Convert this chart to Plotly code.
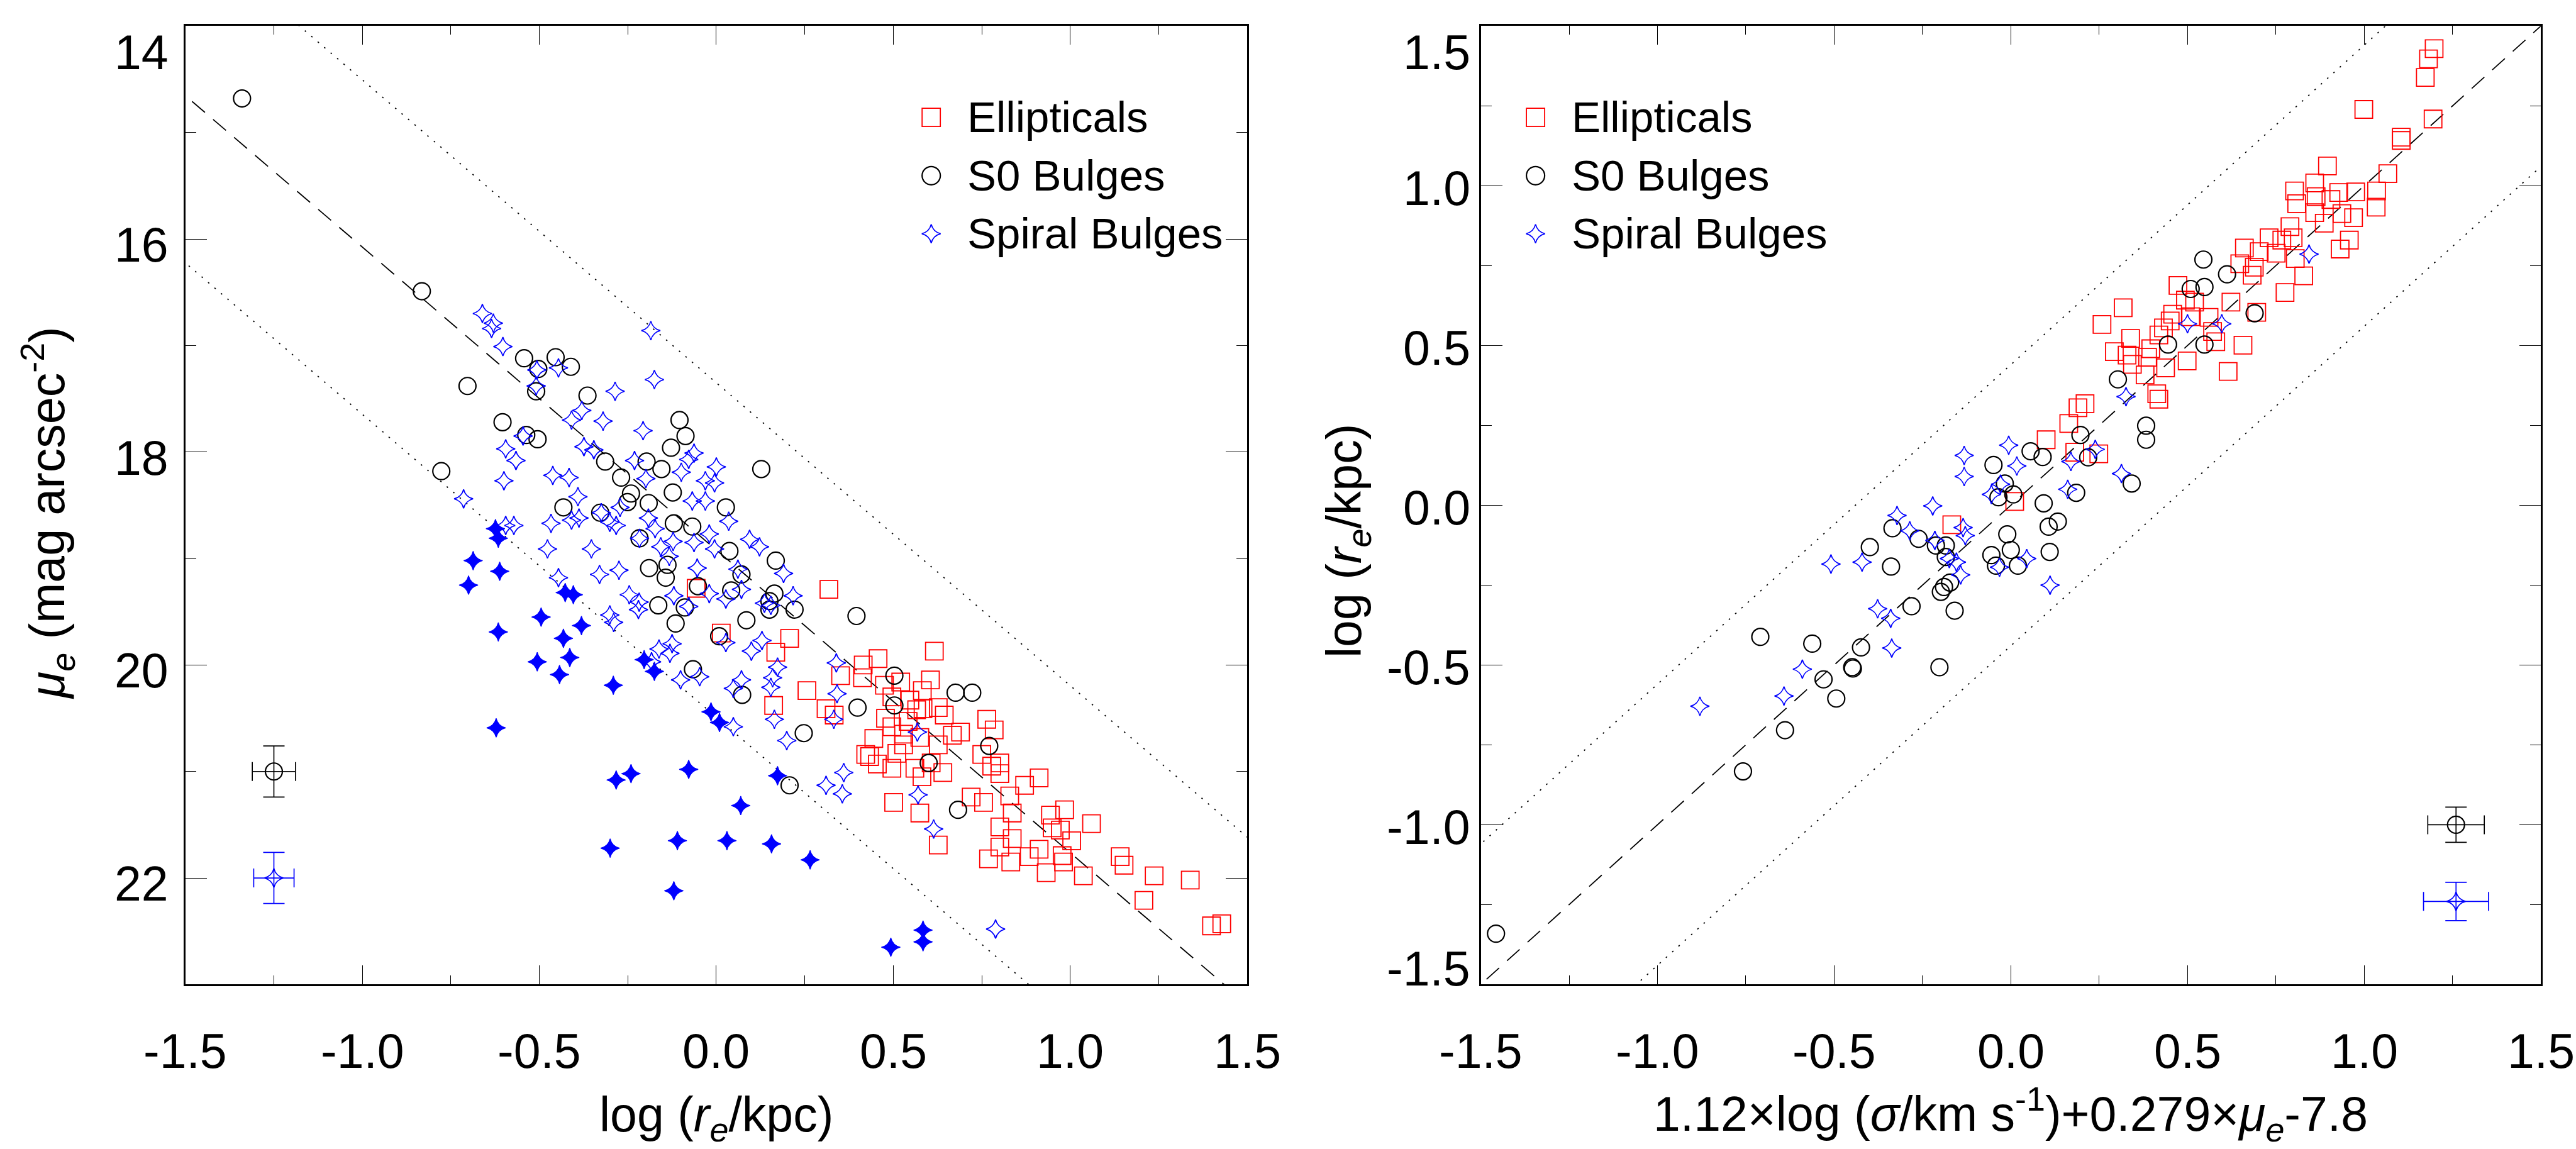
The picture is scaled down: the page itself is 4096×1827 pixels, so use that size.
import plotly.graph_objects as go

# ============ LEFT PANEL: Kormendy relation  (log re/kpc , mu_e) ============
kr_ellipticals = [
    (-0.057, 19.28), (0.014, 19.70), (0.318, 19.29), (0.207, 19.75), (0.168, 19.88), (0.616, 19.87),
    (0.415, 20.00), (0.457, 19.94), (0.351, 20.10), (0.413, 20.12), (0.256, 20.24), (0.162, 20.38),
    (0.310, 20.41), (0.333, 20.47), (0.475, 20.19), (0.521, 20.16), (0.605, 20.14), (0.582, 20.24),
    (0.496, 20.30), (0.547, 20.33), (0.566, 20.42), (0.584, 20.41), (0.627, 20.40), (0.644, 20.47),
    (0.478, 20.50), (0.542, 20.53), (0.496, 20.58), (0.445, 20.69), (0.529, 20.65), (0.575, 20.68),
    (0.529, 20.75), (0.627, 20.75), (0.667, 20.66), (0.690, 20.63), (0.422, 20.84), (0.433, 20.86),
    (0.455, 20.93), (0.496, 20.97), (0.510, 20.83), (0.561, 20.97), (0.581, 21.05), (0.640, 21.01),
    (0.607, 20.92), (0.764, 20.51), (0.785, 20.61), (0.750, 20.84), (0.778, 20.95), (0.801, 20.92),
    (0.801, 21.02), (0.871, 21.13), (0.912, 21.06), (0.829, 21.23), (0.720, 21.24), (0.755, 21.29),
    (0.501, 21.29), (0.575, 21.39), (0.836, 21.39), (0.627, 21.69), (0.801, 21.52), (0.836, 21.63),
    (0.801, 21.71), (0.769, 21.82), (0.832, 21.85), (0.884, 21.80), (0.912, 21.73), (0.944, 21.41),
    (0.984, 21.36), (0.949, 21.53), (0.972, 21.55), (1.004, 21.65), (1.060, 21.49), (0.977, 21.79),
    (0.981, 21.85), (0.932, 21.95), (1.037, 21.98), (1.141, 21.80), (1.152, 21.88), (1.237, 21.98),
    (1.339, 22.02), (1.208, 22.21), (1.399, 22.45), (1.428, 22.43),
]
kr_s0_bulges = [
    (-1.340, 14.68), (-0.832, 16.49), (-0.703, 17.38), (-0.543, 17.12), (-0.503, 17.22), (-0.454, 17.11),
    (-0.411, 17.20), (-0.509, 17.43), (-0.364, 17.47), (-0.604, 17.72), (-0.537, 17.84), (-0.505, 17.88),
    (-0.777, 18.18), (-0.104, 17.70), (-0.087, 17.85), (-0.128, 17.96), (-0.314, 18.09), (-0.269, 18.24),
    (-0.197, 18.09), (-0.155, 18.16), (0.127, 18.16), (-0.241, 18.39), (-0.251, 18.47), (-0.191, 18.48),
    (-0.123, 18.38), (-0.432, 18.52), (-0.328, 18.57), (0.027, 18.52), (-0.120, 18.67), (-0.068, 18.70),
    (-0.217, 18.81), (0.037, 18.93), (-0.190, 19.09), (-0.138, 19.06), (-0.143, 19.18), (-0.052, 19.26),
    (0.042, 19.30), (-0.164, 19.44), (-0.089, 19.46), (-0.115, 19.61), (0.008, 19.73), (-0.066, 20.04),
    (0.168, 19.02), (0.071, 19.15), (0.164, 19.33), (0.150, 19.40), (0.150, 19.48), (0.221, 19.48),
    (0.085, 19.58), (0.396, 19.54), (0.073, 20.28), (0.399, 20.40), (0.247, 20.64), (0.207, 21.13),
    (0.503, 20.10), (0.503, 20.38), (0.676, 20.26), (0.723, 20.26), (0.771, 20.76), (0.600, 20.92),
    (0.683, 21.36),
]
kr_spiral_bulges = [
    (-0.661, 16.70), (-0.630, 16.79), (-0.635, 16.84), (-0.603, 17.01), (-0.185, 16.86), (-0.507, 17.23),
    (-0.446, 17.21), (-0.509, 17.38), (-0.175, 17.32), (-0.286, 17.43), (-0.380, 17.61), (-0.409, 17.70),
    (-0.320, 17.71), (-0.207, 17.80), (-0.595, 17.97), (-0.566, 18.08), (-0.546, 17.85), (-0.374, 17.95),
    (-0.346, 17.98), (-0.231, 18.08), (-0.063, 18.01), (-0.078, 18.07), (-0.099, 18.19), (0.000, 18.14),
    (-0.462, 18.22), (-0.416, 18.24), (-0.600, 18.27), (-0.199, 18.25), (-0.031, 18.27), (-0.005, 18.29),
    (-0.714, 18.44), (-0.391, 18.42), (-0.068, 18.46), (-0.031, 18.46), (-0.272, 18.52), (-0.595, 18.69),
    (-0.572, 18.69), (-0.467, 18.67), (-0.409, 18.64), (-0.388, 18.62), (-0.325, 18.57), (-0.283, 18.69),
    (-0.301, 18.66), (-0.192, 18.62), (-0.173, 18.72), (0.035, 18.65), (-0.020, 18.77), (-0.122, 18.84),
    (-0.063, 18.85), (-0.157, 18.89), (-0.217, 18.81), (-0.005, 18.91), (-0.477, 18.91), (-0.353, 18.91),
    (-0.133, 18.98), (-0.330, 19.15), (-0.275, 19.11), (-0.446, 19.18), (-0.054, 19.09), (0.061, 19.10),
    (-0.246, 19.34), (-0.218, 19.41), (-0.220, 19.48), (-0.120, 19.35), (-0.020, 19.33), (0.027, 19.38),
    (-0.301, 19.53), (-0.290, 19.60), (-0.078, 19.45), (-0.162, 19.85), (-0.125, 19.80), (-0.131, 19.89),
    (-0.183, 19.97), (0.027, 19.79), (-0.101, 20.14), (-0.047, 20.11), (0.048, 20.22), (0.048, 20.58),
    (0.094, 18.82), (0.122, 18.89), (0.190, 19.14), (0.071, 19.29), (0.217, 19.35), (0.136, 19.42),
    (0.154, 19.44), (0.129, 19.77), (0.099, 19.87), (0.173, 20.02), (0.339, 19.98), (0.071, 20.14),
    (0.159, 20.12), (0.154, 20.21), (0.341, 20.27), (0.332, 20.51), (0.164, 20.51), (0.199, 20.71),
    (0.568, 20.63), (0.360, 21.01), (0.310, 21.13), (0.356, 21.21), (0.570, 21.22), (0.614, 21.54),
    (0.789, 22.48),
]
kr_spiral_filled = [
    (-0.624, 18.72), (-0.616, 18.81), (-0.687, 19.02), (-0.612, 19.12), (-0.700, 19.25), (-0.427, 19.32),
    (-0.404, 19.34), (-0.495, 19.55), (-0.381, 19.63), (-0.616, 19.69), (-0.432, 19.75), (-0.414, 19.93),
    (-0.506, 19.97), (-0.443, 20.09), (-0.291, 20.19), (-0.204, 19.95), (-0.175, 20.06), (-0.622, 20.59),
    (-0.015, 20.44), (0.009, 20.54), (-0.078, 20.98), (-0.241, 21.02), (-0.283, 21.08),
    (-0.300, 21.72), (-0.110, 21.65), (0.030, 21.65), (-0.120, 22.12),
    (0.173, 21.04), (0.069, 21.32), (0.156, 21.68), (0.265, 21.83), (0.493, 22.65), (0.584, 22.49),
    (0.584, 22.60),
]

# ============ RIGHT PANEL: Fundamental plane edge-on ============
fp_ellipticals = [
    (1.198, 1.429), (1.182, 1.397), (1.173, 1.339), (0.999, 1.239), (1.195, 1.209), (1.105, 1.152),
    (1.105, 1.142), (0.896, 1.062), (1.067, 1.038), (0.860, 1.009), (0.803, 0.984), (0.809, 0.944),
    (0.864, 0.966), (0.906, 0.957), (0.928, 0.979), (0.976, 0.981), (1.035, 0.984), (1.034, 0.933),
    (0.860, 0.916), (0.937, 0.913), (0.970, 0.900), (0.887, 0.883), (0.958, 0.830), (0.932, 0.802),
    (0.790, 0.872), (0.731, 0.837), (0.767, 0.830), (0.799, 0.837), (0.661, 0.805), (0.703, 0.794),
    (0.751, 0.789), (0.805, 0.772), (0.648, 0.756), (0.689, 0.745), (0.683, 0.720), (0.829, 0.718),
    (0.776, 0.666), (0.473, 0.688), (0.623, 0.636), (0.520, 0.636), (0.494, 0.642), (0.318, 0.618),
    (0.258, 0.566), (0.458, 0.598), (0.451, 0.577), (0.509, 0.590), (0.561, 0.588), (0.432, 0.555),
    (0.419, 0.533), (0.571, 0.544), (0.580, 0.512), (0.657, 0.501), (0.339, 0.522), (0.293, 0.481),
    (0.329, 0.470), (0.396, 0.490), (0.387, 0.463), (0.344, 0.441), (0.380, 0.408), (0.438, 0.430),
    (0.499, 0.452), (0.615, 0.419), (0.696, 0.604), (0.413, 0.349), (0.419, 0.332), (0.210, 0.318),
    (0.190, 0.305), (0.164, 0.256), (0.100, 0.205), (0.181, 0.166), (0.249, 0.161), (0.011, 0.012),
    (-0.167, -0.061),
]
fp_s0_bulges = [
    (0.545, 0.769), (0.612, 0.723), (0.509, 0.677), (0.548, 0.683), (0.690, 0.601), (0.445, 0.503),
    (0.548, 0.503), (0.303, 0.394), (0.383, 0.249), (0.383, 0.205), (0.197, 0.220), (0.056, 0.169),
    (0.090, 0.151), (0.219, 0.150), (-0.049, 0.126), (-0.017, 0.068), (-0.035, 0.025), (0.007, 0.034),
    (0.185, 0.039), (0.342, 0.068), (0.093, 0.006), (0.133, -0.051), (0.107, -0.067), (-0.010, -0.091),
    (0.000, -0.140), (0.110, -0.146), (-0.055, -0.156), (-0.042, -0.189), (0.020, -0.189), (-0.335, -0.072),
    (-0.399, -0.131), (-0.261, -0.105), (-0.212, -0.126), (-0.184, -0.126), (-0.184, -0.162), (-0.339, -0.192),
    (-1.457, -1.341), (-0.758, -0.833), (-0.639, -0.704), (-0.709, -0.412), (-0.562, -0.433), (-0.530, -0.545),
    (-0.494, -0.605), (-0.449, -0.507), (-0.447, -0.511), (-0.424, -0.445), (-0.202, -0.507), (-0.281, -0.316),
    (-0.198, -0.271), (-0.189, -0.256), (-0.172, -0.242), (-0.159, -0.330),
]
fp_spiral_bulges = [
    (0.844, 0.786), (0.500, 0.568), (0.597, 0.568), (0.326, 0.340), (-0.006, 0.188), (-0.132, 0.156),
    (-0.132, 0.090), (0.017, 0.123), (0.170, 0.137), (0.239, 0.175), (0.313, 0.099), (0.161, 0.050),
    (-0.029, 0.066), (-0.055, 0.034), (-0.221, -0.002), (-0.322, -0.032), (-0.286, -0.080), (-0.135, -0.070),
    (-0.129, -0.095), (-0.215, -0.110), (-0.174, -0.167), (-0.154, -0.178), (-0.421, -0.178), (-0.509, -0.184),
    (0.045, -0.167), (-0.032, -0.194),
    (-0.880, -0.629), (-0.642, -0.597), (-0.590, -0.513), (-0.377, -0.324), (-0.340, -0.354), (-0.337, -0.447),
    (-0.142, -0.218), (0.111, -0.250),
]

# ----- fitted relations (dashed) and scatter bands (dotted) -----
kr_zero, kr_slope, kr_band = 18.92, 2.844, 1.57
fp_zero, fp_slope, fp_band = 0.0, 1.0, 0.44
line_x = [-1.6, 1.6]

# ----- typical error bars:  (x, y, err_x, err_y) -----
kr_err_s0 = (-1.25, 21.0, 0.061, 0.24)
kr_err_sp = (-1.25, 22.0, 0.057, 0.24)
fp_err_s0 = (1.26, -1.00, 0.080, 0.055)
fp_err_sp = (1.26, -1.24, 0.092, 0.060)

# ----- ticks -----
x_ticks = [-1.5, -1.0, -0.5, 0.0, 0.5, 1.0, 1.5]
kr_y_ticks = [14, 16, 18, 20, 22]
fp_y_ticks = [-1.5, -1.0, -0.5, 0.0, 0.5, 1.0, 1.5]

legend_labels = ["Ellipticals", "S0 Bulges", "Spiral Bulges"]

# ================= styling =================
W, H = 4096, 1827
FONT = "Liberation Sans, Arial, Helvetica, sans-serif"
RED, BLUE, BLACK = "rgb(255,0,0)", "rgb(0,0,255)", "black"
TICK_FS, TITLE_FS, LEG_FS = 77, 77, 69

LX = [0.07197, 0.48418]
RX = [0.57485, 0.98635]
YD = [0.14319, 0.97734]

sq = dict(symbol="square-open", size=28, color=RED, line=dict(width=1.8, color=RED))
ci = dict(symbol="circle-open", size=27, color=BLACK, line=dict(width=2.2, color=BLACK))
st = dict(symbol="star-diamond-open", size=21.5, color=BLUE, line=dict(width=1.8, color=BLUE))
stf = dict(symbol="star-diamond", size=21.5, color=BLUE, line=dict(width=1.2, color=BLUE))

fig = go.Figure()


def add_pts(pts, marker, xa, ya):
    xs = [p[0] for p in pts]
    ys = [p[1] for p in pts]
    fig.add_trace(go.Scatter(x=xs, y=ys, mode="markers", marker=marker,
                             xaxis=xa, yaxis=ya, hoverinfo="skip"))


def add_line(zero, slope, offset, dash, xa, ya):
    ys = [zero + offset + slope * x for x in line_x]
    fig.add_trace(go.Scatter(x=line_x, y=ys, mode="lines",
                             line=dict(color=BLACK, width=1.8, dash=dash),
                             xaxis=xa, yaxis=ya, hoverinfo="skip"))


DASH = "27px,17px"
DOT = "2.5px,11px"

# left panel
add_line(kr_zero, kr_slope, 0.0, DASH, "x", "y")
add_line(kr_zero, kr_slope, kr_band, DOT, "x", "y")
add_line(kr_zero, kr_slope, -kr_band, DOT, "x", "y")
add_pts(kr_ellipticals, sq, "x", "y")
add_pts(kr_s0_bulges, ci, "x", "y")
add_pts(kr_spiral_bulges, st, "x", "y")
add_pts(kr_spiral_filled, stf, "x", "y")

# right panel
add_line(fp_zero, fp_slope, 0.0, DASH, "x2", "y2")
add_line(fp_zero, fp_slope, fp_band, DOT, "x2", "y2")
add_line(fp_zero, fp_slope, -fp_band, DOT, "x2", "y2")
add_pts(fp_ellipticals, sq, "x2", "y2")
add_pts(fp_s0_bulges, ci, "x2", "y2")
add_pts(fp_spiral_bulges, st, "x2", "y2")


def add_err(e, marker, color, xa, ya):
    x, y, ex, ey = e
    fig.add_trace(go.Scatter(
        x=[x], y=[y], mode="markers", marker=marker, xaxis=xa, yaxis=ya, hoverinfo="skip",
        error_x=dict(type="data", array=[ex], color=color, thickness=1.7, width=15),
        error_y=dict(type="data", array=[ey], color=color, thickness=1.7, width=17)))


add_err(kr_err_s0, ci, BLACK, "x", "y")
add_err(kr_err_sp, st, BLUE, "x", "y")
add_err(fp_err_s0, ci, BLACK, "x2", "y2")
add_err(fp_err_sp, st, BLUE, "x2", "y2")


# ----- axes -----
def xaxis(dom, anchor):
    return dict(domain=dom, anchor=anchor, range=[-1.5, 1.5], showgrid=False, zeroline=False,
                showline=True, linewidth=3, linecolor=BLACK, mirror="allticks",
                ticks="inside", ticklen=30, tickwidth=1.3, tickcolor=BLACK,
                tickvals=x_ticks, showticklabels=False,
                minor=dict(dtick=0.25, tick0=0, ticks="inside", ticklen=14, tickwidth=1.3, tickcolor=BLACK))


def yaxis(rng, tickvals, minor_dtick, anchor):
    return dict(domain=YD, anchor=anchor, range=rng, showgrid=False, zeroline=False,
                showline=True, linewidth=3, linecolor=BLACK, mirror="allticks",
                ticks="inside", ticklen=34, tickwidth=1.3, tickcolor=BLACK,
                tickvals=tickvals, showticklabels=False,
                minor=dict(dtick=minor_dtick, tick0=0, ticks="inside", ticklen=17, tickwidth=1.3, tickcolor=BLACK))


fig.update_layout(
    width=W, height=H, margin=dict(l=0, r=0, t=0, b=0, pad=0),
    paper_bgcolor="white", plot_bgcolor="white", showlegend=False,
    font=dict(family=FONT, color=BLACK),
    xaxis=xaxis(LX, "y"), xaxis2=xaxis(RX, "y2"),
    yaxis=yaxis([23, 14], kr_y_ticks, 1, "x"),
    yaxis2=yaxis([-1.5, 1.5], fp_y_ticks, 0.25, "x2"),
)

ann = []
tfont = dict(family=FONT, size=TICK_FS, color=BLACK)

# x tick labels (both panels)
for xr, yr in (("x", "y domain"), ("x2", "y2 domain")):
    for v in x_ticks:
        ann.append(dict(x=v, xref=xr, y=0, yref=yr, text="%.1f" % v, showarrow=False,
                        xanchor="center", yanchor="middle", yshift=-106, font=tfont, borderpad=0))

# y tick labels, left panel
for i, v in enumerate(kr_y_ticks):
    shift = -42 if i == 0 else -9
    ann.append(dict(x=0, xref="x domain", y=v, yref="y", text="%d" % v, showarrow=False,
                    xanchor="right", yanchor="middle", xshift=-26, yshift=shift, font=tfont, borderpad=0))
# y tick labels, right panel
for i, v in enumerate(fp_y_ticks):
    if i == len(fp_y_ticks) - 1:
        shift = -42
    elif i == 0:
        shift = 25
    else:
        shift = -4
    ann.append(dict(x=0, xref="x2 domain", y=v, yref="y2", text="%.1f" % v, showarrow=False,
                    xanchor="right", yanchor="middle", xshift=-16, yshift=shift, font=tfont, borderpad=0))

# axis titles
title_font = dict(family=FONT, size=TITLE_FS, color=BLACK)
ann.append(dict(x=(LX[0] + LX[1]) / 2, xref="paper", y=0, yref="paper",
                text="log (<i>r</i><sub><i>e</i></sub>/kpc)", showarrow=False,
                xanchor="center", yanchor="bottom", font=title_font, borderpad=0))
ann.append(dict(x=(RX[0] + RX[1]) / 2, xref="paper", y=0, yref="paper",
                text="1.12×log (<i>σ</i>/km s<sup>-1</sup>)+0.279×<i>μ</i><sub><i>e</i></sub>-7.8",
                showarrow=False, xanchor="center", yanchor="bottom", font=title_font, borderpad=0))
ann.append(dict(x=75 / W, xref="paper", y=1 - 816 / H, yref="paper", textangle=-90,
                text="<i>μ</i><sub><i>e</i></sub> (mag arcsec<sup>-2</sup>)", showarrow=False,
                xanchor="center", yanchor="middle", font=title_font))
ann.append(dict(x=2143 / W, xref="paper", y=1 - 860 / H, yref="paper", textangle=-90,
                text="log (<i>r</i><sub><i>e</i></sub>/kpc)", showarrow=False,
                xanchor="center", yanchor="middle", font=title_font))

# legends (keys drawn as pixel-sized shapes, labels as text)
leg_rows = [1 - 186.6 / H, 1 - 279.3 / H, 1 - 371.6 / H]
leg_sets = [(1480.7 / W, 1542.9 / W), (2441.6 / W, 2504.0 / W)]
shapes = []
r = 14.5
k = 3.0
star_path = ("M -15,0 Q -%g,%g 0,15 Q %g,%g 15,0 Q %g,-%g 0,-15 Q -%g,-%g -15,0 Z"
             % (k, k, k, k, k, k, k, k))
for mx, tx in leg_sets:
    base = dict(xref="paper", yref="paper", xsizemode="pixel", ysizemode="pixel", xanchor=mx)
    shapes.append(dict(base, type="rect", yanchor=leg_rows[0], x0=-r, x1=r, y0=-r, y1=r,
                       line=dict(color=RED, width=1.8)))
    shapes.append(dict(base, type="circle", yanchor=leg_rows[1], x0=-r, x1=r, y0=-r, y1=r,
                       line=dict(color=BLACK, width=2.2)))
    shapes.append(dict(base, type="path", yanchor=leg_rows[2], path=star_path,
                       line=dict(color=BLUE, width=1.8)))
    for lab, yy in zip(legend_labels, leg_rows):
        ann.append(dict(x=tx, xref="paper", y=yy, yref="paper", text=lab, showarrow=False,
                        xanchor="left", yanchor="middle", xshift=-6, borderpad=0,
                        font=dict(family=FONT, size=LEG_FS, color=BLACK)))

fig.update_layout(annotations=ann, shapes=shapes)
fig.write_html("out.html")
